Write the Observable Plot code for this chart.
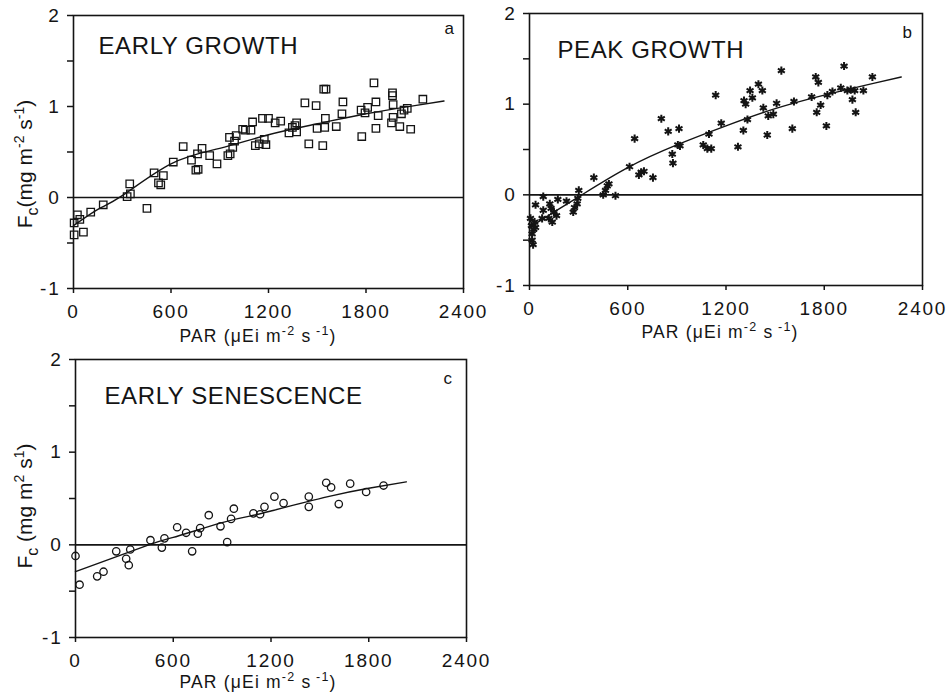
<!DOCTYPE html>
<html><head><meta charset="utf-8">
<script src="https://cdn.jsdelivr.net/npm/d3@7"></script>
<script src="https://cdn.jsdelivr.net/npm/@observablehq/plot@0.6"></script>
<style>
body{margin:0;background:#fff;}
#wrap{position:relative;width:949px;height:696px;overflow:hidden;background:#fff;font-family:"Liberation Sans",Arial,sans-serif;}
#wrap svg{position:absolute;overflow:visible;}
g[aria-label$="tick label"]{letter-spacing:1.8px;font-size:19px;}
</style></head><body><div id="wrap"></div>
<script>
// ---------- data ----------
const xTicks = [0, 600, 1200, 1800, 2400];
const yTicks = [-1, -0.5, 0, 0.5, 1, 1.5, 2];

// a: early growth (squares)
const aPAR = [4,4,24,39,61,106,183,330,346,350,452,496,523,537,553,614,675,726,753,767,763,791,838,883,950,960,964,980,991,1001,1041,1058,1092,1102,1119,1143,1163,1174,1184,1200,1241,1275,1326,1347,1363,1373,1373,1424,1448,1493,1499,1540,1554,1534,1546,1550,1617,1652,1658,1774,1770,1794,1810,1849,1861,1861,1875,1957,1963,1963,1967,1967,2008,2018,2034,2054,2075,2150];
const aFc = [-0.28,-0.41,-0.19,-0.24,-0.38,-0.16,-0.08,0.01,0.15,0.04,-0.12,0.27,0.16,0.14,0.24,0.39,0.56,0.41,0.30,0.31,0.48,0.54,0.46,0.37,0.46,0.66,0.48,0.55,0.62,0.68,0.75,0.74,0.74,0.83,0.57,0.59,0.87,0.64,0.58,0.87,0.82,0.84,0.71,0.77,0.79,0.82,0.72,1.04,0.59,1.01,0.76,1.19,1.19,0.57,0.77,0.87,0.78,0.92,1.05,0.67,0.96,0.93,0.99,1.26,1.05,0.76,0.90,0.82,1.15,1.12,1.02,0.88,0.78,0.92,0.96,0.98,0.75,1.08];
const aFitPAR = [0,150,300,600,900,1200,1500,1800,2100,2280];
const aFitFc = [-0.31,-0.13,0.02,0.37,0.54,0.69,0.81,0.92,1.01,1.06];

// b: peak growth (asterisks)
const bPAR = [6,12,16,16,22,26,31,37,37,77,84,84,118,124,132,139,149,165,173,226,267,275,291,295,301,393,450,464,475,485,525,611,642,668,682,699,754,805,847,872,876,906,913,919,1061,1086,1096,1110,1137,1171,1273,1306,1310,1320,1331,1347,1361,1398,1422,1428,1452,1458,1489,1509,1538,1605,1615,1723,1748,1754,1764,1778,1813,1819,1850,1901,1921,1941,1962,1972,1992,1986,2039,2094];
const bFc = [-0.26,-0.34,-0.43,-0.50,-0.55,-0.38,-0.30,-0.36,-0.11,-0.26,-0.02,-0.17,-0.26,-0.10,-0.15,-0.30,-0.19,-0.23,-0.05,-0.07,-0.19,-0.14,-0.10,-0.04,0.05,0.19,0.00,0.05,0.10,0.12,-0.01,0.31,0.62,0.22,0.25,0.26,0.19,0.84,0.70,0.45,0.35,0.55,0.73,0.54,0.55,0.51,0.67,0.51,1.10,0.79,0.53,0.71,1.04,1.00,0.83,1.15,1.07,1.22,1.15,0.96,0.66,0.87,0.89,1.01,1.37,0.73,1.03,1.08,1.30,0.91,1.24,0.99,0.76,1.10,1.14,1.18,1.42,1.15,1.16,1.05,0.91,1.15,1.15,1.30];
const bFitPAR = [0,150,320,600,900,1200,1500,1800,2100,2270];
const bFitFc = [-0.36,-0.19,0,0.30,0.55,0.76,0.95,1.10,1.23,1.30];

// c: early senescence (circles)
const cPAR = [0,25,133,172,250,311,327,336,460,530,546,624,679,716,751,765,818,890,931,955,972,1092,1133,1160,1221,1277,1432,1432,1539,1569,1616,1686,1784,1891];
const cFc = [-0.12,-0.43,-0.34,-0.29,-0.07,-0.15,-0.22,-0.05,0.05,-0.03,0.07,0.19,0.13,-0.07,0.12,0.18,0.32,0.20,0.03,0.28,0.39,0.34,0.33,0.41,0.52,0.45,0.52,0.41,0.67,0.62,0.44,0.66,0.57,0.64];
const cFitPAR = [0,450,600,900,1070,1200,1550,1800,2030];
const cFitFc = [-0.29,0,0.08,0.24,0.31,0.365,0.52,0.61,0.68];

const titles = ["EARLY GROWTH", "PEAK GROWTH", "EARLY SENESCENCE"];
const letters = ["a", "b", "c"];

// ---------- drawing ----------
const wrap = document.getElementById("wrap");
const FONT = '"Liberation Sans", Arial, Helvetica, sans-serif';
const ink = "#141414";

function zip(xs, ys) { return xs.map((x, i) => ({par: x, fc: ys[i]})); }

function panel(cfg) {
  const svg = Plot.plot({
    width: cfg.w, height: cfg.h,
    marginLeft: cfg.ml, marginRight: cfg.mr, marginTop: cfg.mt, marginBottom: cfg.mb,
    x: {domain: [0, 2400]},
    y: {domain: [-1, 2]},
    style: {fontFamily: FONT, fontSize: "19px", color: ink, background: "transparent"},
    marks: [
      Plot.ruleY([0], {stroke: ink, strokeWidth: 1.6}),
      Plot.frame({stroke: ink, strokeWidth: 1.6}),
      Plot.axisX({ticks: xTicks, tickSize: 5, tickPadding: 11, tickFormat: d => String(d), label: null, strokeWidth: 1.5}),
      Plot.axisY({ticks: yTicks, tickSize: 6, tickPadding: 7, tickFormat: d => Number.isInteger(d) ? String(d) : "", label: null, strokeWidth: 1.5}),
      Plot.line(zip(cfg.fitX, cfg.fitY), {x: "par", y: "fc", curve: "natural", stroke: ink, strokeWidth: 1.4}),
      Plot.dot(zip(cfg.px, cfg.py), {x: "par", y: "fc", symbol: cfg.symbol, r: cfg.r, stroke: ink, strokeWidth: cfg.sw, fill: "none"}),
      Plot.text([cfg.title], {text: d => d, frameAnchor: "top-left", textAnchor: "start", lineAnchor: "bottom", dx: cfg.tdx, dy: cfg.tdy, fontSize: 24, fill: ink, stroke: null}),
      Plot.text([cfg.letter], {text: d => d, frameAnchor: "top-right", textAnchor: "end", lineAnchor: "bottom", dx: cfg.ldx, dy: cfg.ldy, fontSize: 17, fill: ink})
    ]
  });
  svg.style.left = cfg.left + "px";
  svg.style.top = cfg.top + "px";
  const s = d3.select(svg);
  s.selectAll('g[aria-label="text"] text').style("letter-spacing", "0.6px");
  // x axis title
  const xt = s.append("text").attr("x", cfg.xlx).attr("y", cfg.xly).attr("text-anchor", "middle")
    .attr("fill", ink).style("font-size", "17.5px").style("letter-spacing", "1.2px").style("font-family", FONT);
  xt.append("tspan").text("PAR (\u03bcEi m");
  xt.append("tspan").attr("dy", -7).style("font-size", "12.5px").text("-2");
  xt.append("tspan").attr("dy", 7).text(" s");
  xt.append("tspan").attr("dy", -7).style("font-size", "12.5px").text(" -1");
  xt.append("tspan").attr("dy", 7).text(")");
  // y axis title
  if (cfg.ylab) {
    const yt = s.append("text").attr("transform", `translate(${cfg.ylx},${cfg.yly}) rotate(-90)`)
      .attr("text-anchor", "middle").attr("fill", ink).style("font-size", "21px").style("font-family", FONT);
    yt.append("tspan").text("F");
    yt.append("tspan").attr("dy", 6).style("font-size", "16px").text("c");
    yt.append("tspan").attr("dy", -6).text(cfg.ylab[0]);
    yt.append("tspan").attr("dy", -8).style("font-size", "14px").text(cfg.ylab[1]);
    yt.append("tspan").attr("dy", 8).text(" s");
    yt.append("tspan").attr("dy", -8).style("font-size", "14px").text(cfg.ylab[2]);
    yt.append("tspan").attr("dy", 8).text(")");
  }
  wrap.appendChild(svg);
}

panel({left: 0, top: 0, w: 480, h: 350, ml: 73, mr: 17, mt: 15, mb: 62,
  px: aPAR, py: aFc, fitX: aFitPAR, fitY: aFitFc, symbol: "square", r: 4.2, sw: 1.3,
  title: titles[0], tdx: 25, tdy: 38, letter: letters[0], ldx: -9, ldy: 18,
  xlx: 258, xly: 342, ylab: ["(mg m", "-2", "-1"], ylx: 32, yly: 164});

panel({left: 480, top: 0, w: 469, h: 350, ml: 49, mr: 27, mt: 13, mb: 65,
  px: bPAR, py: bFc, fitX: bFitPAR, fitY: bFitFc, symbol: "asterisk", r: 3.8, sw: 2,
  title: titles[1], tdx: 28, tdy: 44, letter: letters[1], ldx: -10, ldy: 24,
  xlx: 240, xly: 338, ylab: null});

panel({left: 0, top: 350, w: 480, h: 346, ml: 75, mr: 14, mt: 9, mb: 59,
  px: cPAR, py: cFc, fitX: cFitPAR, fitY: cFitFc, symbol: "circle", r: 3.7, sw: 1.3,
  title: titles[2], tdx: 29, tdy: 44, letter: letters[2], ldx: -14, ldy: 24,
  xlx: 258, xly: 338, ylab: [" (mg m", "2", "1"], ylx: 32, yly: 156});
</script>
</body></html>
